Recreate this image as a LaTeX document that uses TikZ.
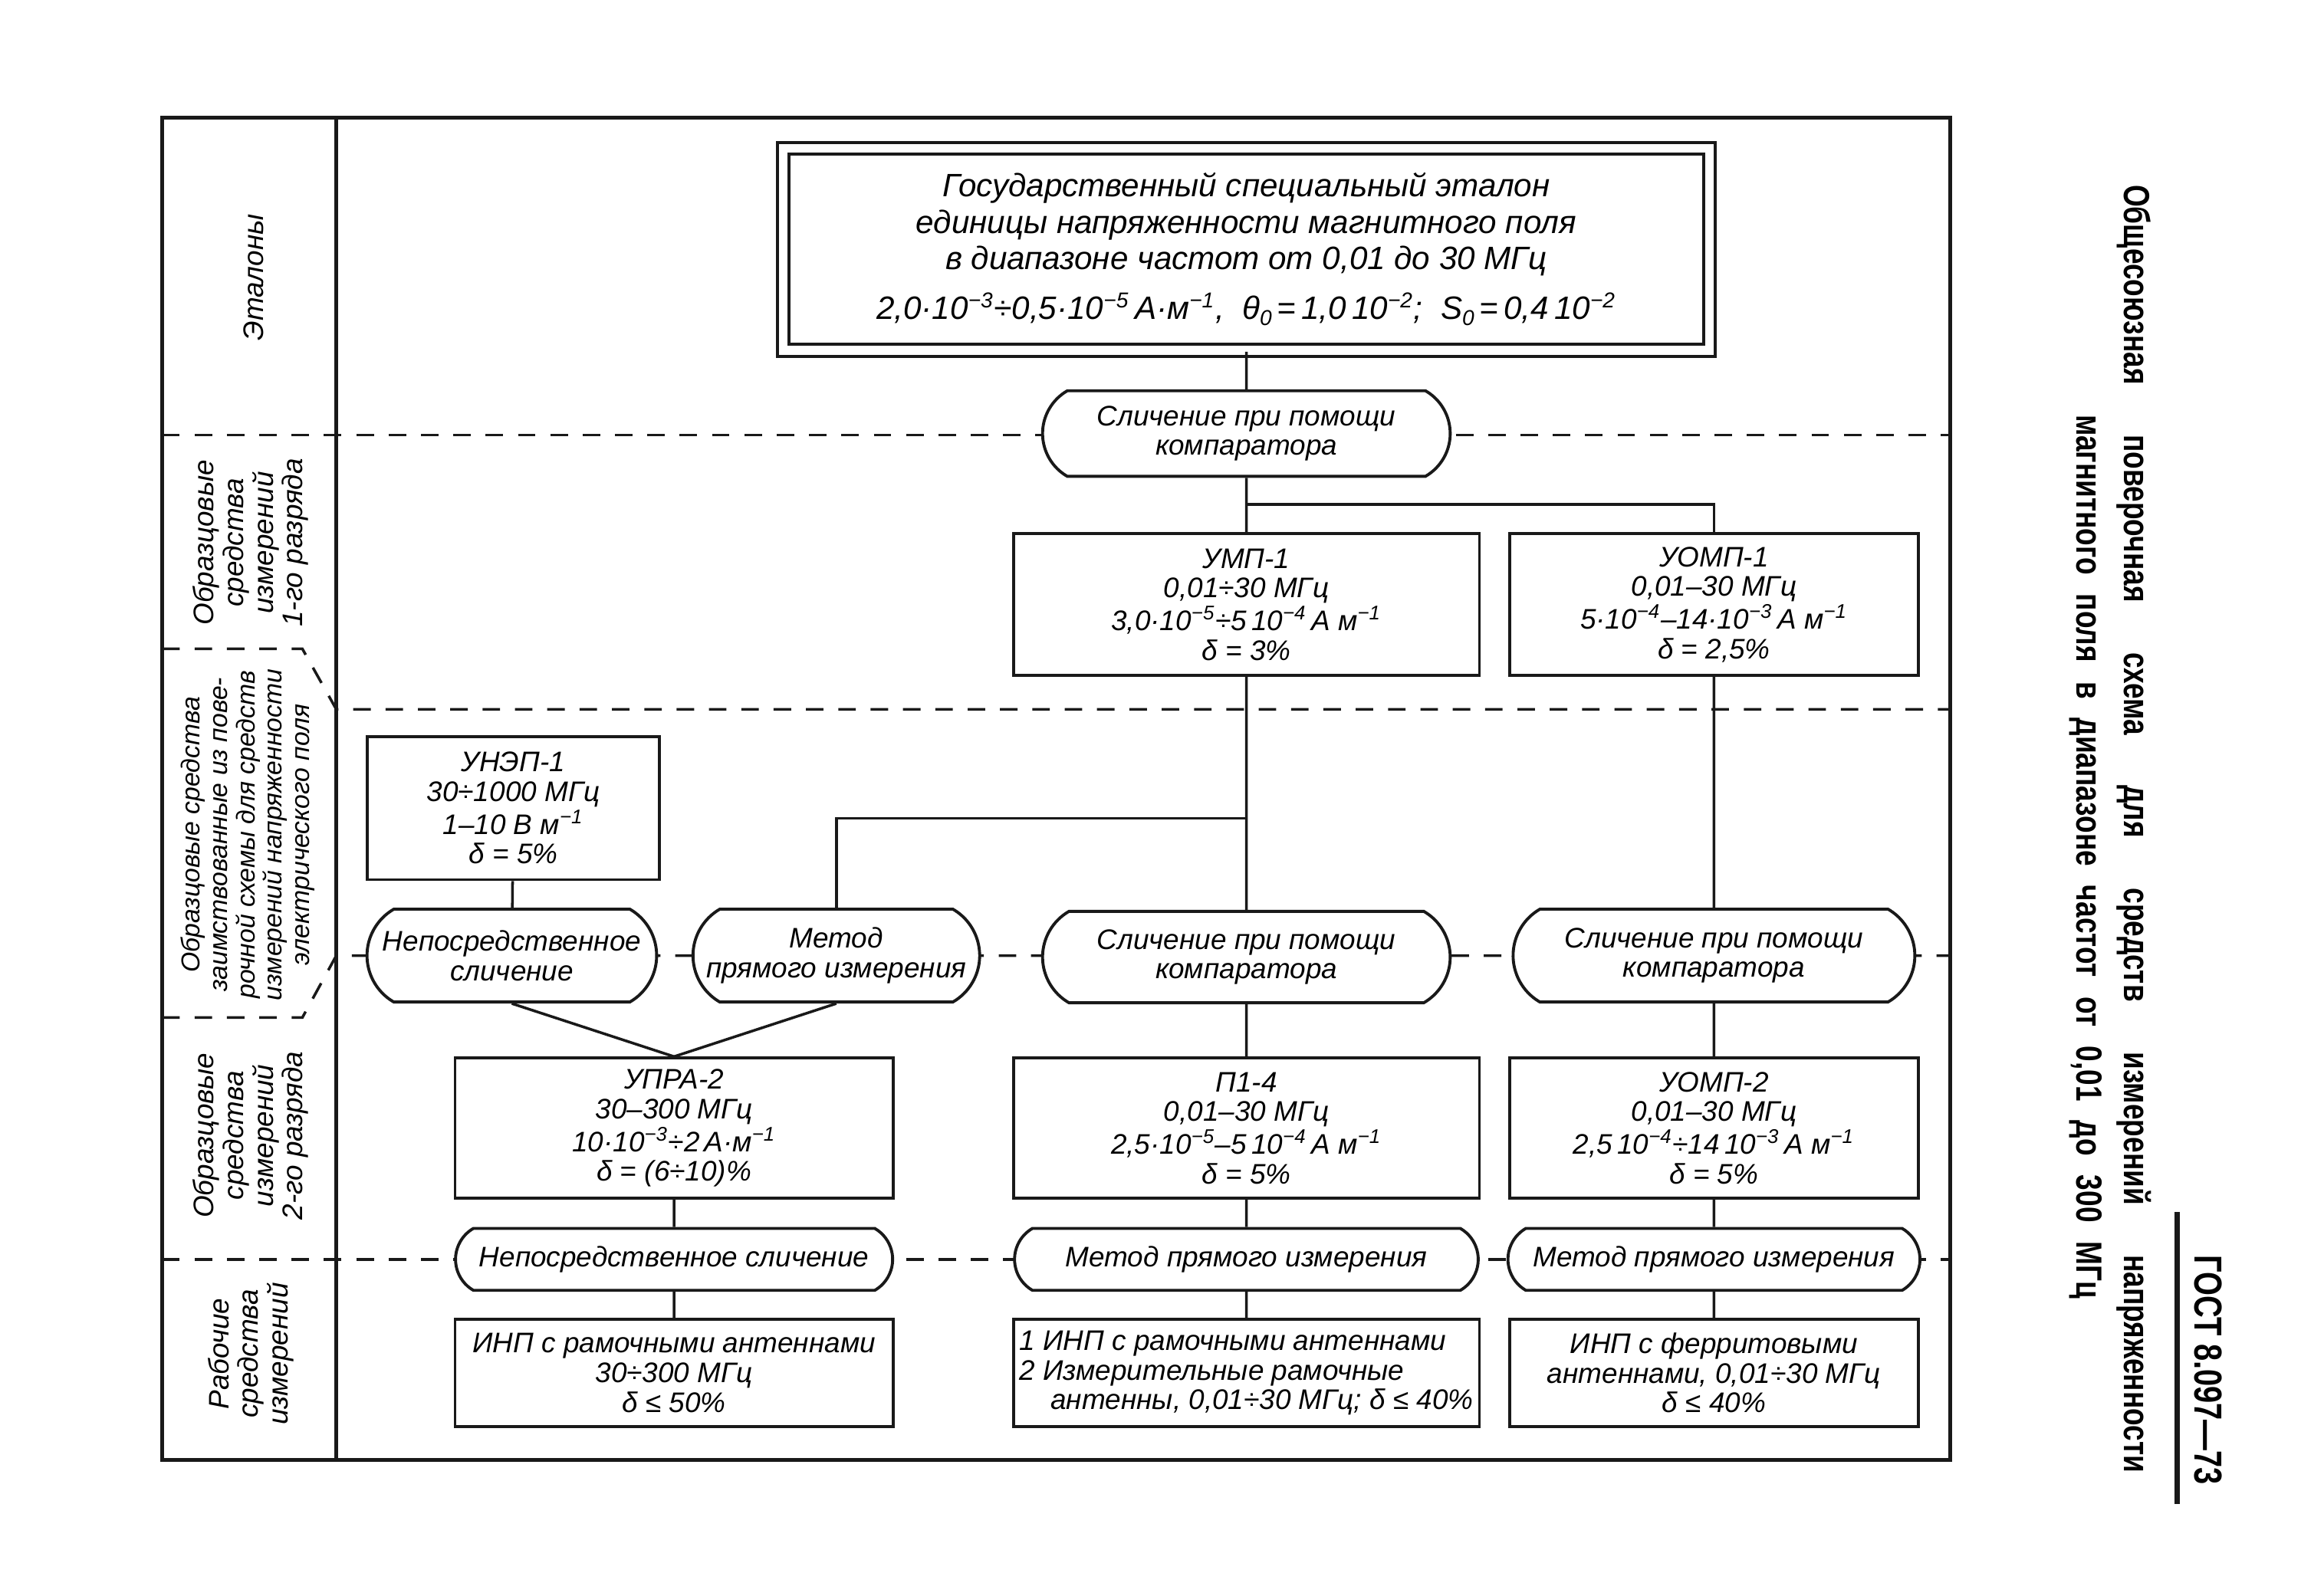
\documentclass[tikz,border=0pt]{standalone}
\usepackage{fontspec}
\setmainfont{Liberation Sans}
\newfontfamily\titlefont{Liberation Sans}[FakeStretch=0.78]
\usetikzlibrary{shapes.misc}

\newcommand{\ux}{0.19237mm}
\newcommand{\pw}[1]{\textsuperscript{#1}}
\newcommand{\ix}[1]{\raisebox{-0.35ex}{\footnotesize #1}}
\colorlet{inkcolor}{black!90}
\tikzset{boxbase/.style 2 args={draw=inkcolor, line width=1.1pt, fill=white, inner sep=1pt, align=center, minimum width=#1*\ux, minimum height=#2*\ux, font=\fontsize{10.5}{11}\selectfont\itshape},%
    device/.style 2 args={boxbase={#1}{#2}, shape=rectangle},%
    method/.style 2 args={boxbase={#1}{#2}, shape=rounded rectangle, rounded rectangle arc length=120},%
    etalonbox/.style 2 args={boxbase={#1}{#2}, shape=rectangle, double, double distance=3.3pt, font=\fontsize{12}{13.5}\selectfont\itshape},%
    conn/.style={-, line width=1pt, color=inkcolor},%
    frame/.style={line width=1.4pt, color=inkcolor},%
    zoneline/.style={line width=1pt, color=inkcolor, dash pattern=on 6.5pt off 5.5pt},%
    rowlabel/.style={rotate=90, align=center, inner sep=0pt, font=\fontsize{10.5}{11}\selectfont\itshape},%
    titleline/.style={rotate=-90, inner sep=0pt, font=\titlefont\fontsize{13.5}{15}\selectfont\bfseries}%
}

\begin{document}
\begin{tikzpicture}[x=\ux, y=-\ux]
            \useasboundingbox (0,0) rectangle (1560,1081.8);
            \begin{scope} %frame and zones
                \draw[frame] (110,80) rectangle (1322,990);
                \draw[frame] (228,80) -- (228,990);
                \draw[zoneline] (110,295) -- (1322,295);
                \draw[zoneline] (110,440) -- (205,440) -- (228,481) -- (1322,481);
                \draw[zoneline] (110,690) -- (205,690) -- (228,648) -- (1322,648);
                \draw[zoneline] (110,854) -- (1322,854);
            \end{scope}
            \begin{scope} %draw vertices
                \node[etalonbox={628}{137}] (etalon) at (845,169) {Государственный специальный эталон\\ единицы напряженности магнитного поля\\ в диапазоне частот от 0,01 до 30 МГц\\[5pt] 2,0·10\pw{−3}÷0,5·10\pw{−5}\,А·м\pw{−1},\ \ θ\ix{0}\,=\,1,0\,10\pw{−2};\ \ S\ix{0}\,=\,0,4\,10\pw{−2}};
                \node[method={280}{58}] (cmpA) at (845,294) {Сличение при помощи\\ компаратора};
                \node[device={316}{96}] (ump1) at (845,410) {УМП-1\\ 0,01÷30 МГц\\ 3,0·10\pw{−5}÷5\,10\pw{−4}\,А м\pw{−1}\\ δ = 3\%};
                \node[device={277}{96}] (uomp1) at (1162,410) {УОМП-1\\ 0,01–30 МГц\\ 5·10\pw{−4}–14·10\pw{−3}\,А м\pw{−1}\\ δ = 2,5\%};
                \node[device={198}{97}] (unep1) at (348,548) {УНЭП-1\\ 30÷1000 МГц\\ 1–10 В м\pw{−1}\\ δ = 5\%};
                \node[method={200}{63}] (nepA) at (347,648) {Непосредственное\\ сличение};
                \node[method={198}{63}] (metA) at (567,648) {Метод\\ прямого измерения};
                \node[method={280}{62}] (cmpB) at (845,649) {Сличение при помощи\\ компаратора};
                \node[method={276}{63}] (cmpC) at (1162,648) {Сличение при помощи\\ компаратора};
                \node[device={297}{95}] (upra2) at (457,765) {УПРА-2\\ 30–300 МГц\\ 10·10\pw{−3}÷2\,А·м\pw{−1}\\ δ = (6÷10)\%};
                \node[device={316}{95}] (p14) at (845,765) {П1-4\\ 0,01–30 МГц\\ 2,5·10\pw{−5}–5\,10\pw{−4}\,А м\pw{−1}\\ δ = 5\%};
                \node[device={277}{95}] (uomp2) at (1162,765) {УОМП-2\\ 0,01–30 МГц\\ 2,5\,10\pw{−4}÷14\,10\pw{−3}\,А м\pw{−1}\\ δ = 5\%};
                \node[method={300}{42}] (nepB) at (457,854) {Непосредственное сличение};
                \node[method={318}{42}] (metB) at (845,854) {Метод прямого измерения};
                \node[method={283}{42}] (metC) at (1162,854) {Метод прямого измерения};
                \node[device={297}{73}] (inpA) at (457,931) {ИНП с рамочными антеннами\\ 30÷300 МГц\\ δ ≤ 50\%};
                \node[device={316}{73}, align=left] (inpB) at (845,931) {1 ИНП с рамочными антеннами\\ 2 Измерительные рамочные\\ \hspace*{1.1em}антенны, 0,01÷30 МГц; δ ≤ 40\%};
                \node[device={277}{73}] (inpC) at (1162,931) {ИНП с ферритовыми\\ антеннами, 0,01÷30 МГц\\ δ ≤ 40\%};
                \coordinate (brA) at (845,342);
                \coordinate (brB) at (845,555);
            \end{scope}
            \begin{scope} %draw connections
                \path (etalon) edge[conn] (cmpA);
                \path (cmpA) edge[conn] (ump1);
                \draw[conn] (uomp1.north) |- (brA);
                \path (ump1) edge[conn] (cmpB);
                \draw[conn] (metA.north) |- (brB);
                \path (uomp1) edge[conn] (cmpC);
                \path (unep1) edge[conn] (nepA);
                \path (nepA.south) edge[conn] (upra2.north);
                \path (metA.south) edge[conn] (upra2.north);
                \path (cmpB) edge[conn] (p14);
                \path (cmpC) edge[conn] (uomp2);
                \path (upra2) edge[conn] (nepB);
                \path (p14) edge[conn] (metB);
                \path (uomp2) edge[conn] (metC);
                \path (nepB) edge[conn] (inpA);
                \path (metB) edge[conn] (inpB);
                \path (metC) edge[conn] (inpC);
            \end{scope}
            \begin{scope} %add labels
                \node[rowlabel] (lvlA) at (172,188) {Эталоны};
                \node[rowlabel] (lvlB) at (170,368) {Образцовые\\ средства\\ измерений\\ 1-го разряда};
                \node[rowlabel, font=\fontsize{9.6}{10.2}\selectfont\itshape] (lvlC) at (168,566) {Образцовые средства\\ заимствованные из пове-\\ рочной схемы для средств\\ измерений напряженности\\ электрического поля};
                \node[rowlabel] (lvlD) at (170,770) {Образцовые\\ средства\\ измерений\\ 2-го разряда};
                \node[rowlabel] (lvlE) at (170,918) {Рабочие\\ средства\\ измерений};
                \node[titleline] (ttlA) at (1447,562) {\makebox[478pt][s]{Общесоюзная поверочная схема для средств измерений напряженности}};
                \node[titleline] (ttlB) at (1414,581) {\makebox[328pt][s]{магнитного поля в диапазоне частот от 0,01 до 300 МГц}};
                \node[titleline, font=\titlefont\fontsize{14.5}{16}\selectfont\bfseries] (gost) at (1497,929) {ГОСТ 8.097—73};
                \draw[line width=2.2pt, color=inkcolor] (1476,822) -- (1476,1020);
            \end{scope}
        \end{tikzpicture}
\end{document}
